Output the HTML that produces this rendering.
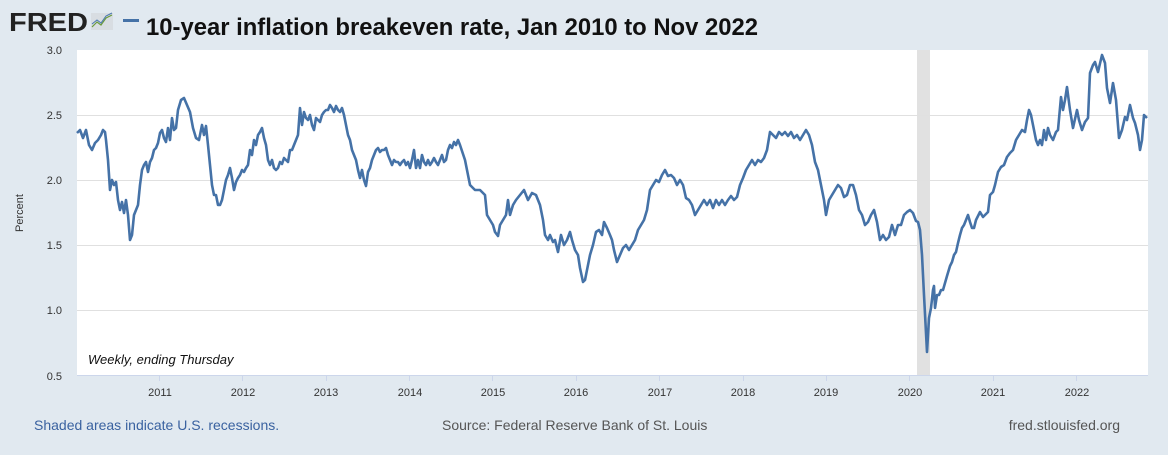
<!DOCTYPE html>
<html><head><meta charset="utf-8"><style>
html,body{margin:0;padding:0;background:#e1e9f0;}
body{width:1168px;height:450px;overflow:hidden;font-family:"Liberation Sans",sans-serif;}
</style></head><body>
<svg width="1168" height="450" xmlns="http://www.w3.org/2000/svg" font-family="Liberation Sans, sans-serif">
<rect width="1168" height="450" fill="#e1e9f0"/>
<text x="9" y="31" font-size="26" font-weight="bold" fill="#222" textLength="79" lengthAdjust="spacingAndGlyphs">FRED</text>
<rect x="91" y="13" width="22" height="17" fill="#d8dde2"/>
<polyline points="92,27 97,22 101,25 106,18 112,15" fill="none" stroke="#6a9a3c" stroke-width="1.2"/>
<polyline points="92,24 97,20 101,23 106,16 112,13" fill="none" stroke="#4a78b0" stroke-width="1"/>
<rect x="123" y="19" width="16" height="3" fill="#4572a7"/>
<text x="146" y="35" font-size="24" font-weight="bold" fill="#111" textLength="612" lengthAdjust="spacingAndGlyphs">10-year inflation breakeven rate, Jan 2010 to Nov 2022</text>
<rect x="77" y="50" width="1071" height="325" fill="#fff"/>
<rect x="917" y="50" width="13" height="325" fill="#e1e1e1"/>
<g stroke="#e0e0e0" stroke-width="1">
<line x1="77" y1="115.5" x2="1148" y2="115.5"/><line x1="77" y1="180.5" x2="1148" y2="180.5"/>
<line x1="77" y1="245.5" x2="1148" y2="245.5"/><line x1="77" y1="310.5" x2="1148" y2="310.5"/>
</g>
<line x1="77" y1="375.5" x2="1148" y2="375.5" stroke="#ccd6eb"/>
<g stroke="#ccd6eb"><line x1="159.5" y1="375" x2="159.5" y2="381"/><line x1="242.5" y1="375" x2="242.5" y2="381"/><line x1="326.5" y1="375" x2="326.5" y2="381"/><line x1="409.5" y1="375" x2="409.5" y2="381"/><line x1="492.5" y1="375" x2="492.5" y2="381"/><line x1="576.5" y1="375" x2="576.5" y2="381"/><line x1="659.5" y1="375" x2="659.5" y2="381"/><line x1="743.5" y1="375" x2="743.5" y2="381"/><line x1="826.5" y1="375" x2="826.5" y2="381"/><line x1="909.5" y1="375" x2="909.5" y2="381"/><line x1="993.5" y1="375" x2="993.5" y2="381"/><line x1="1076.5" y1="375" x2="1076.5" y2="381"/></g>
<g font-size="11" fill="#333" text-anchor="end">
<text x="62" y="54">3.0</text><text x="62" y="119">2.5</text><text x="62" y="184">2.0</text><text x="62" y="249">1.5</text><text x="62" y="314">1.0</text><text x="62" y="380">0.5</text>
</g>
<g font-size="11" fill="#333" text-anchor="middle">
<text x="160" y="396">2011</text><text x="243" y="396">2012</text><text x="326" y="396">2013</text><text x="410" y="396">2014</text><text x="493" y="396">2015</text><text x="576" y="396">2016</text><text x="660" y="396">2017</text><text x="743" y="396">2018</text><text x="826" y="396">2019</text><text x="910" y="396">2020</text><text x="993" y="396">2021</text><text x="1077" y="396">2022</text>
</g>
<text x="23" y="213" font-size="11" fill="#333" transform="rotate(-90 23 213)" text-anchor="middle">Percent</text>
<text x="88" y="364" font-size="13" font-style="italic" fill="#111">Weekly, ending Thursday</text>
<polyline fill="none" stroke="#4572a7" stroke-width="2.6" stroke-linejoin="round" points="77,133 80,130 83,138 86,130 89,145 92,150 95,143 98,140 101,135 103,130 105,132 106,140 108,160 110,190 112,180 114,185 116,182 118,200 120,210 122,202 124,213 126,200 128,215 130,240 132,235 134,215 136,210 138,205 140,185 142,170 144,165 146,162 148,172 150,162 152,158 154,150 156,148 158,143 160,133 162,130 164,138 166,142 168,128 170,140 172,118 174,130 176,128 178,110 181,100 184,98 187,105 190,112 193,128 196,138 199,140 202,125 204,135 206,126 208,145 210,165 212,185 214,195 216,195 218,205 220,205 222,200 224,190 226,180 228,175 230,168 232,178 234,190 236,182 238,178 240,175 242,170 244,172 246,168 248,165 250,150 252,155 254,140 256,145 258,135 260,132 262,128 264,138 266,145 268,160 270,165 272,160 274,168 276,170 278,168 280,162 282,164 284,158 286,160 288,162 290,150 292,150 294,145 296,140 298,135 300,108 302,125 304,112 306,118 308,120 310,115 312,125 314,130 316,118 318,120 320,122 322,115 324,112 326,110 328,110 330,105 332,108 334,112 336,106 338,110 340,112 342,108 344,115 346,125 348,135 350,140 352,150 354,155 356,160 358,170 360,178 362,170 364,180 366,186 368,172 370,168 372,160 374,155 376,150 378,148 380,152 382,150 384,150 386,148 388,155 390,160 392,165 394,160 396,162 398,162 400,165 402,162 404,160 406,165 408,162 410,168 412,160 414,150 416,168 418,160 420,168 422,155 424,162 426,165 428,160 430,165 432,162 434,158 436,162 438,165 440,160 442,155 444,162 446,160 448,150 450,145 452,148 454,142 456,145 458,140 460,145 465,160 470,185 475,190 480,190 485,195 487,215 490,220 493,225 495,232 498,236 500,225 503,220 506,215 508,200 510,215 513,205 516,200 520,195 524,190 528,200 532,193 536,195 540,205 543,220 545,235 548,240 550,235 553,242 555,240 558,252 561,235 564,245 567,240 570,232 572,240 575,250 578,255 580,268 583,282 585,280 587,270 590,255 593,245 596,232 599,230 602,235 604,222 607,228 610,235 612,240 614,250 617,262 620,255 623,248 626,245 629,250 632,245 635,240 638,230 641,225 644,220 647,210 650,190 653,185 656,180 659,182 662,175 665,170 668,176 671,175 674,178 677,185 680,180 683,185 686,198 689,200 692,205 695,215 698,210 701,205 704,200 707,205 710,200 713,208 716,200 719,205 722,200 725,205 728,200 731,196 734,200 737,197 740,185 743,178 746,170 749,165 752,160 755,165 758,160 761,162 764,158 767,150 770,132 773,135 776,138 779,132 782,135 785,132 788,136 791,132 794,138 797,135 800,140 803,135 806,130 809,135 812,145 815,162 818,170 821,185 824,200 826,215 829,200 832,195 835,190 838,185 841,188 844,197 847,195 850,185 853,185 856,195 859,210 862,215 865,225 868,222 871,215 874,210 877,222 880,240 883,235 886,240 889,237 892,225 895,235 898,225 901,225 904,215 907,212 910,210 913,213 916,221 918,222 920,230 922,255 924,295 927,352 929,318 931,308 933,290 934,286 935,308 937,295 939,295 941,290 943,290 945,283 947,276 950,266 952,262 954,255 956,252 958,243 960,235 962,228 964,225 966,220 968,215 970,222 972,228 974,228 976,220 978,216 980,212 983,217 985,215 988,212 990,195 993,192 995,185 998,172 1001,167 1004,165 1007,157 1010,153 1013,150 1016,140 1019,135 1022,130 1025,132 1027,120 1029,110 1031,115 1033,125 1036,140 1038,145 1040,140 1042,145 1044,130 1046,140 1048,128 1050,135 1053,140 1056,132 1058,130 1061,97 1063,110 1065,100 1067,87 1070,110 1073,128 1077,110 1079,120 1082,130 1085,122 1088,118 1090,73 1093,65 1095,62 1098,72 1102,55 1105,63 1107,88 1110,103 1113,83 1116,100 1119,138 1122,130 1125,117 1127,120 1130,105 1133,118 1135,123 1138,135 1140,150 1142,140 1144,115 1147,118"/>
<text x="34" y="430" font-size="14" fill="#3a62a0">Shaded areas indicate U.S. recessions.</text>
<text x="442" y="430" font-size="14" fill="#555">Source: Federal Reserve Bank of St. Louis</text>
<text x="1120" y="430" font-size="14" fill="#555" text-anchor="end">fred.stlouisfed.org</text>
</svg>
</body></html>
